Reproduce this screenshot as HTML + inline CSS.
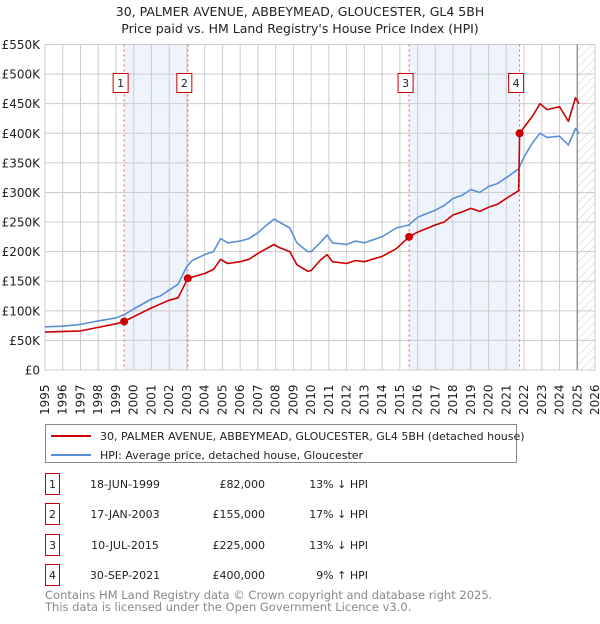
<!DOCTYPE html>
<html><head><meta charset="utf-8">
<style>
body{margin:0;background:#fff;font-family:"DejaVu Sans","Liberation Sans",sans-serif;}
svg text{font-family:"DejaVu Sans","Liberation Sans",sans-serif;}
</style></head>
<body>
<svg id="chart" width="600" height="620" xmlns="http://www.w3.org/2000/svg">
<defs>
<pattern id="hatch" width="6" height="6" patternUnits="userSpaceOnUse" patternTransform="rotate(45)">
<line x1="0" y1="0" x2="0" y2="6" stroke="#ccc" stroke-width="1"/>
</pattern>
</defs>
<text x="300" y="16" text-anchor="middle" font-size="12.5" fill="#222">30, PALMER AVENUE, ABBEYMEAD, GLOUCESTER, GL4 5BH</text>
<text x="300" y="33" text-anchor="middle" font-size="12.5" fill="#222">Price paid vs. HM Land Registry's House Price Index (HPI)</text>
<g id="plot"></g>
<g>
<rect x="45.5" y="424.5" width="471" height="38" fill="#fff" stroke="#888"/>
<line x1="51" y1="436" x2="91" y2="436" stroke="#cc0000" stroke-width="2"/>
<text x="100" y="440" font-size="11" fill="#222">30, PALMER AVENUE, ABBEYMEAD, GLOUCESTER, GL4 5BH (detached house)</text>
<line x1="51" y1="455" x2="91" y2="455" stroke="#5b8fd4" stroke-width="2"/>
<text x="100" y="459" font-size="11" fill="#222">HPI: Average price, detached house, Gloucester</text>
</g>
<g id="table" font-size="11" fill="#222"></g>
<text x="45" y="599" font-size="11.5" fill="#888">Contains HM Land Registry data © Crown copyright and database right 2025.</text>
<text x="45" y="611" font-size="11.5" fill="#888">This data is licensed under the Open Government Licence v3.0.</text>
</svg>
<script>
const hpiYears=[1995,1996,1997,1998,1999,1999.5,2000,2001,2001.5,2002,2002.5,2003,2003.3,2004,2004.5,2004.9,2005.3,2006,2006.5,2007,2007.5,2007.9,2008.2,2008.8,2009.2,2009.8,2010,2010.5,2010.9,2011.2,2012,2012.5,2013,2014,2014.8,2015.5,2016,2017,2017.5,2018,2018.5,2019,2019.5,2020,2020.5,2021,2021.7,2022,2022.5,2022.9,2023.3,2024,2024.5,2024.9,2025.1];
const hpiValues=[73,74,77,83,88,94,103,120,125,135,145,175,185,195,200,222,215,218,222,232,245,255,250,240,215,200,200,215,228,215,212,218,215,225,240,245,258,270,278,290,295,305,300,310,315,325,340,360,385,400,393,395,380,408,400];
const priceYears=[1995,1997,1998,1999,1999.46,2000,2001,2002,2002.5,2003.05,2004,2004.5,2004.9,2005.3,2006,2006.5,2007,2007.9,2008.2,2008.8,2009.2,2009.8,2010,2010.5,2010.9,2011.2,2012,2012.5,2013,2014,2014.8,2015.52,2016,2017,2017.5,2018,2018.5,2019,2019.5,2020,2020.5,2021,2021.7,2021.75,2022,2022.5,2022.9,2023.3,2024,2024.5,2024.9,2025.1];
const priceValues=[64,66,72,78,82,90,105,118,122,155,163,170,187,180,183,187,197,212,207,200,178,167,168,185,195,183,180,185,183,192,205,225,233,245,250,262,267,273,268,275,280,290,303,400,410,430,450,440,445,420,460,450];
const saleIds=["1","2","3","4"];
const saleYears=[1999.46,2003.05,2015.52,2021.75];
const saleValues=[82,155,225,400];
const saleDates=["18-JUN-1999","17-JAN-2003","10-JUL-2015","30-SEP-2021"];
const salePrices=["£82,000","£155,000","£225,000","£400,000"];
const saleDiffs=["13% ↓ HPI","17% ↓ HPI","13% ↓ HPI","9% ↑ HPI"];
const yTicks=[0,50,100,150,200,250,300,350,400,450,500,550];
const yTickLabels=["£0","£50K","£100K","£150K","£200K","£250K","£300K","£350K","£400K","£450K","£500K","£550K"];
const xTicks=[1995,1996,1997,1998,1999,2000,2001,2002,2003,2004,2005,2006,2007,2008,2009,2010,2011,2012,2013,2014,2015,2016,2017,2018,2019,2020,2021,2022,2023,2024,2025,2026];
const shadeRanges=[[1999.46,2003.05],[2015.52,2021.75]];
const forecastStart=2025.0;

const L=45,R=595,T=44.5,B=370;
const X=y=>L+(y-1995)/(2026-1995)*(R-L);
const Y=v=>B-v/550*(B-T);
const NS="http://www.w3.org/2000/svg";
const plot=document.getElementById('plot');
function mk(tag,attrs,parent){const e=document.createElementNS(NS,tag);for(const k in attrs)e.setAttribute(k,attrs[k]);(parent||plot).appendChild(e);return e;}

shadeRanges.forEach((r,i)=>{
 const e=mk('rect',{x:X(r[0]),y:T,width:X(r[1])-X(r[0]),height:B-T,fill:'#eef3fc'});
 
 
});
const hz=mk('rect',{x:X(forecastStart),y:T,width:R-X(forecastStart),height:B-T,fill:'url(#hatch)'});



xTicks.forEach(t=>{
 const g=mk('line',{x1:X(t),x2:X(t),y1:T,y2:B,stroke:'#ccc','stroke-width':1});
 
 
 const tx=mk('text',{x:0,y:0,transform:`translate(${X(t)+4},${B+45}) rotate(-90)`,'font-size':'12',fill:'#222'});
 tx.textContent=t;
 
 
});
yTicks.forEach((t,i)=>{
 const g=mk('line',{x1:L,x2:R,y1:Y(t),y2:Y(t),stroke:'#ccc','stroke-width':1});
 
 
 const tx=mk('text',{x:40,y:Y(t)+4.5,'text-anchor':'end','font-size':'12',fill:'#222'});
 tx.textContent=yTickLabels[i];
 
 
});
const fl=mk('line',{x1:X(forecastStart),x2:X(forecastStart),y1:T,y2:B,stroke:'#999','stroke-width':1.5});



saleYears.forEach((s,i)=>{
 const l=mk('line',{x1:X(s),x2:X(s),y1:T,y2:B,stroke:'#e06060','stroke-width':1,'stroke-dasharray':'2,3'});
 
 
});

function path(xs,vs,color,name){
 const d=xs.map((x,i)=>(i?'L':'M')+X(x).toFixed(1)+','+Y(vs[i]).toFixed(1)).join('');
 const p=mk('path',{d:d,fill:'none',stroke:color,'stroke-width':1.6,'stroke-linejoin':'round'});
 
 
}
path(hpiYears,hpiValues,'#5b8fd4','hpi-line');
path(priceYears,priceValues,'#cc0000','price-line');

saleYears.forEach((s,i)=>{
 const c=mk('circle',{cx:X(s),cy:Y(saleValues[i]),r:4,fill:'#cc0000'});
 
 
 const b=mk('rect',{x:X(s)-11,y:73.5,width:15,height:19,fill:'#fff',stroke:'#cc0000'});
 
 
 const t=mk('text',{x:X(s)-3.5,y:87,'text-anchor':'middle','font-size':'11',fill:'#222'});
 t.textContent=saleIds[i];
 
 
});

const tbl=document.getElementById('table');
const rowY=[484,514,545,575];
saleIds.forEach((id,i)=>{
 const y=rowY[i];
 const b=mk('rect',{x:45.5,y:y-10.5,width:14,height:21,fill:'#fff',stroke:'#cc0000'},tbl);
 
 
 const cols=[[52.5,id,'middle'],[125,saleDates[i],'middle'],[265,salePrices[i],'end'],[368,saleDiffs[i],'end']];
 cols.forEach(c=>{
  const t=mk('text',{x:c[0],y:y+4,'text-anchor':c[2]},tbl);
  t.textContent=c[1];
  
  
 });
});
</script>
</body></html>
